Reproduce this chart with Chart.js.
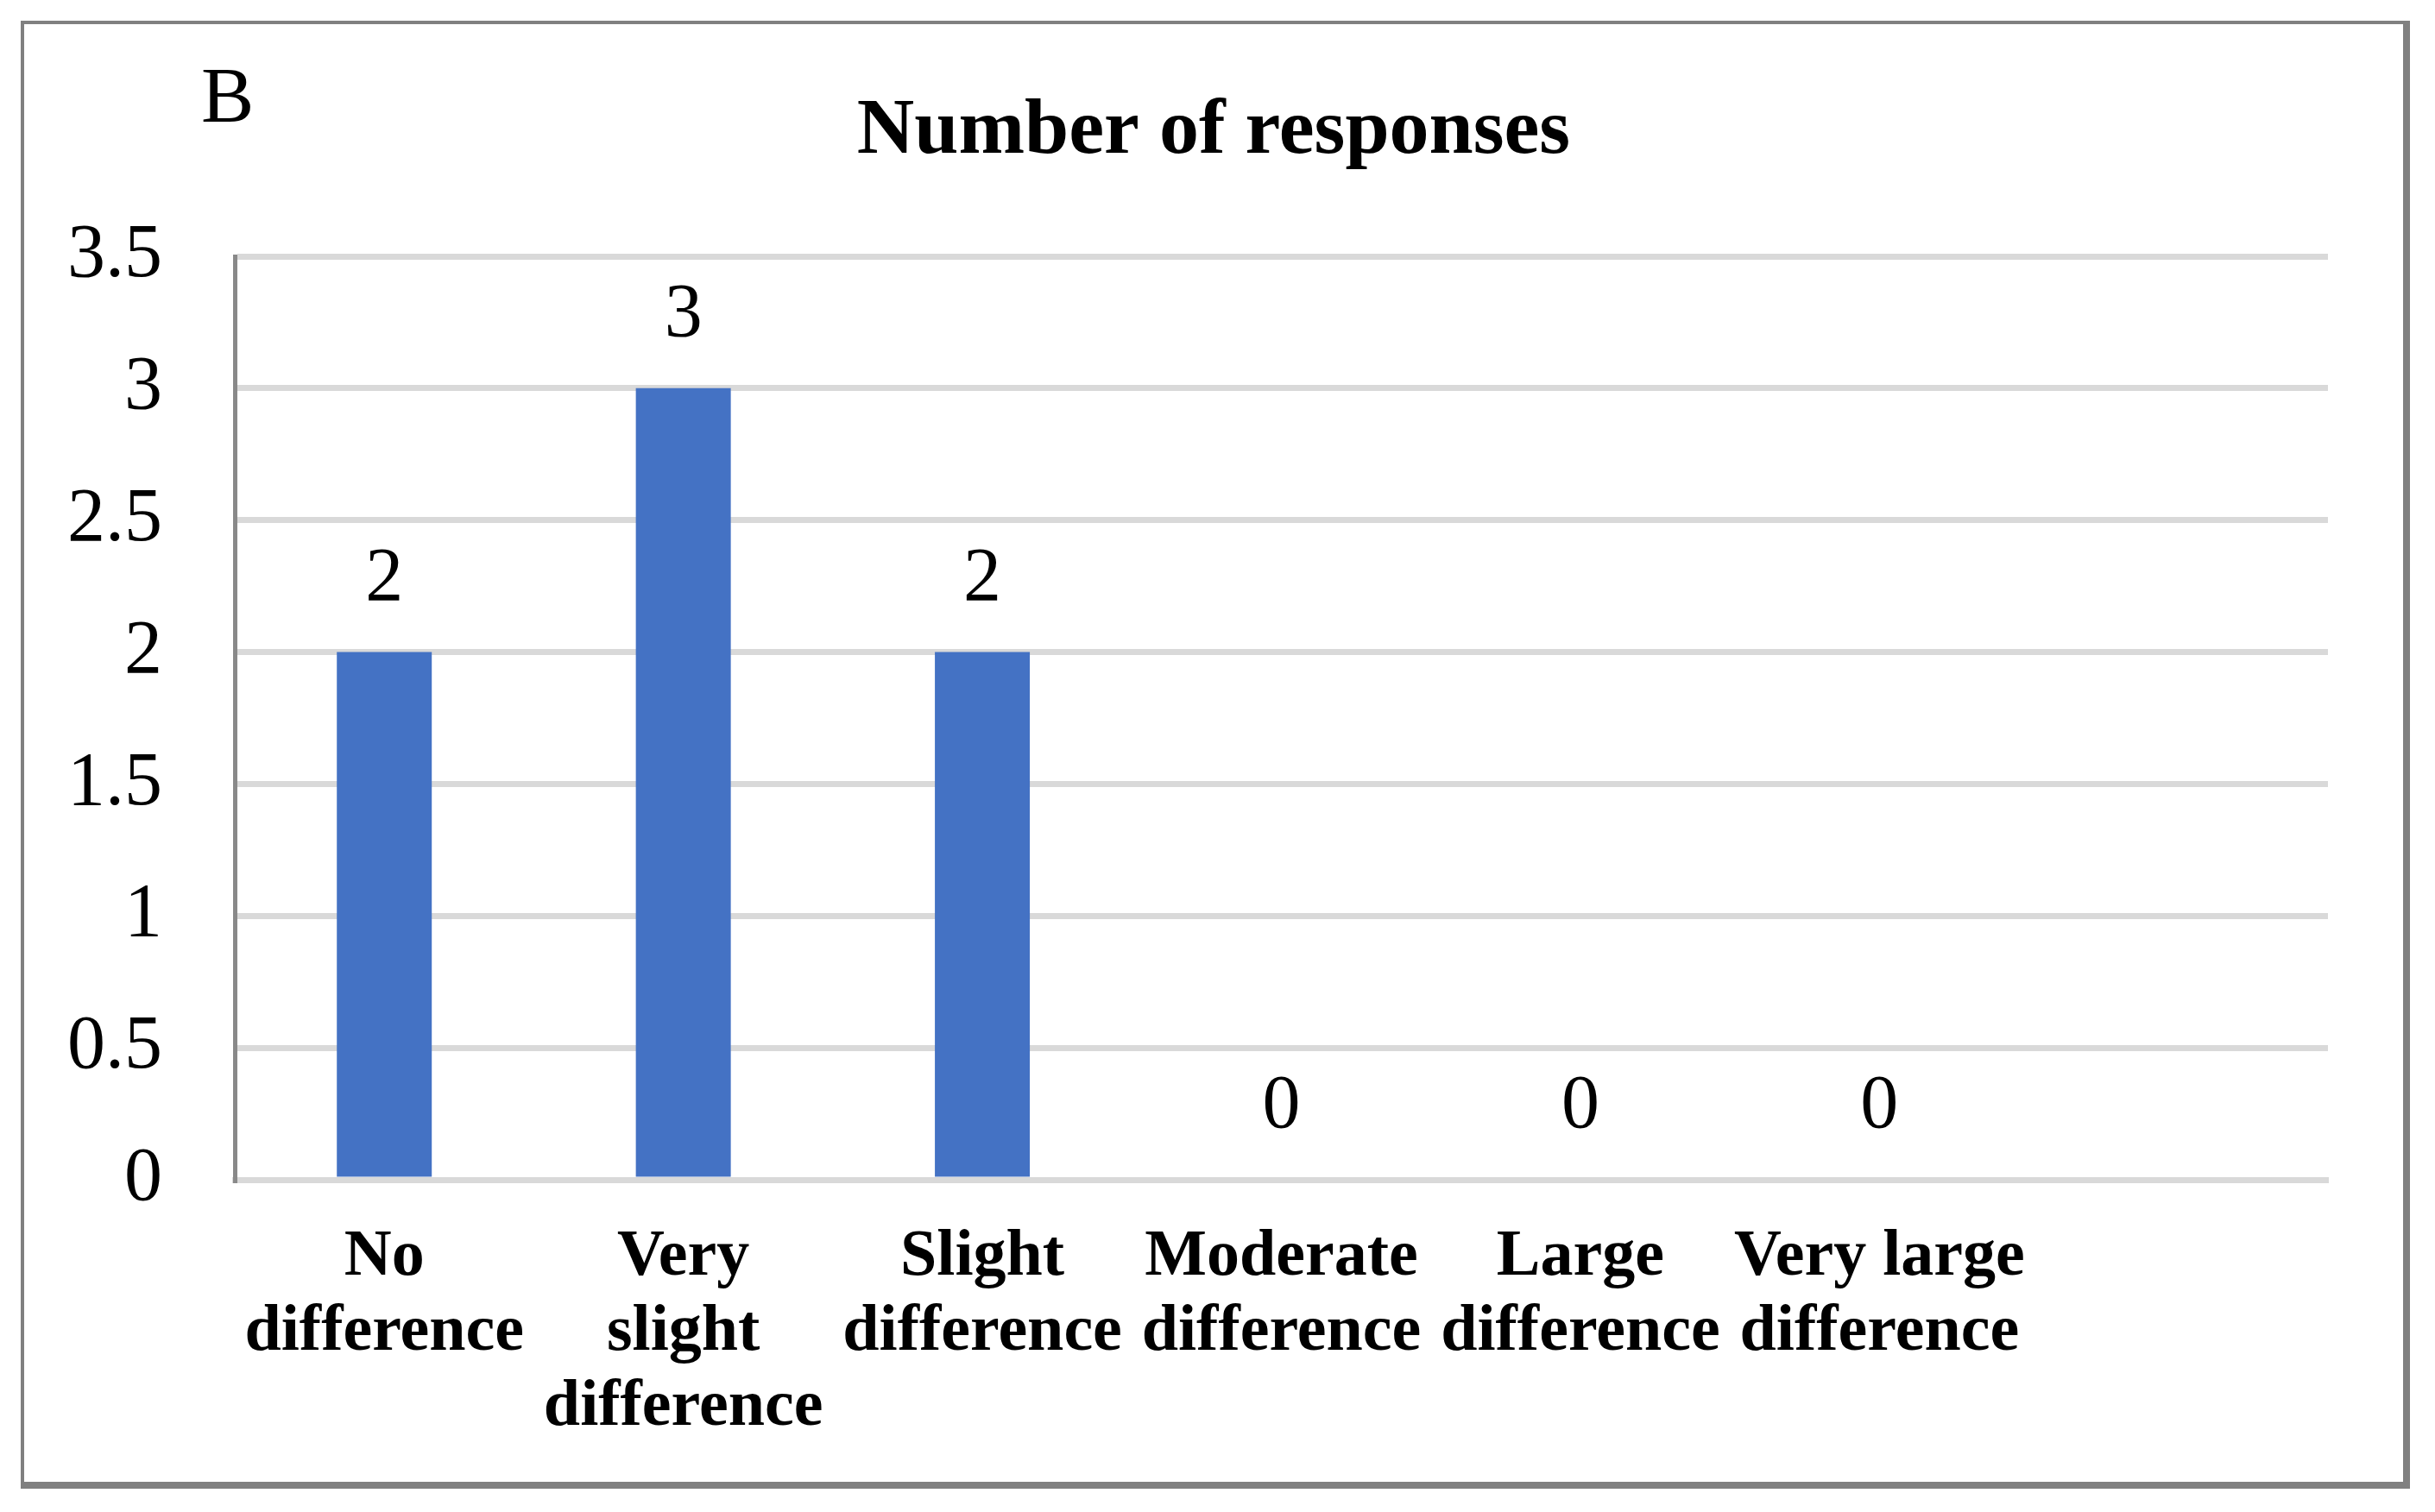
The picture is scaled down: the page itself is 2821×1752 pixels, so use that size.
<!DOCTYPE html>
<html>
<head>
<meta charset="utf-8">
<script src="https://cdn.jsdelivr.net/npm/chart.js@4.4.0/dist/chart.umd.min.js"></script>
<style>
  html, body { margin: 0; padding: 0; background: #fff; }
  #wrap { position: relative; width: 2821px; height: 1752px; }
  #frame {
    position: absolute; left: 24px; top: 24px; width: 2756px; height: 1689px;
    border-style: solid; border-color: #808080;
    border-width: 4px 8px 8px 4px;
  }
  #chart { position: absolute; left: 0; top: 0; }
</style>
</head>
<body>
<div id="wrap">
  <div id="frame"></div>
  <canvas id="chart" width="2821" height="1752"></canvas>
</div>
<script>
const categories = [
  ["No", "difference"],
  ["Very", "slight", "difference"],
  ["Slight", "difference"],
  ["Moderate", "difference"],
  ["Large", "difference"],
  ["Very large", "difference"],
  ""
];
const responses = [2, 3, 2, 0, 0, 0, null];
const panelLetter = "B";
const chartTitle = "Number of responses";

const serif = "'Liberation Serif', 'Times New Roman', serif";

// title, panel letter and value labels above the bars
const labelsPlugin = {
  id: "valueLabels",
  afterDatasetsDraw(chart) {
    const ctx = chart.ctx;
    const meta = chart.getDatasetMeta(0);
    ctx.save();
    ctx.fillStyle = "#000";
    ctx.font = "88px " + serif;
    ctx.textAlign = "center";
    ctx.textBaseline = "middle";
    meta.data.forEach((bar, i) => {
      const v = responses[i];
      if (v === null || v === undefined) return;
      ctx.fillText(String(v), bar.x, bar.y - 84);
    });
    ctx.textBaseline = "alphabetic";
    ctx.font = "bold 92px " + serif;
    ctx.fillText(chartTitle, 1406, 177);
    ctx.textAlign = "left";
    ctx.font = "92px " + serif;
    ctx.fillText(panelLetter, 233, 141);
    ctx.restore();
  }
};

new Chart(document.getElementById("chart"), {
  type: "bar",
  data: {
    labels: categories,
    datasets: [{
      data: responses,
      backgroundColor: "#4472C4",
      categoryPercentage: 1,
      barPercentage: 0.3175
    }]
  },
  options: {
    responsive: false,
    devicePixelRatio: 1,
    animation: false,
    events: [],
    layout: { padding: { top: 297, left: 40, right: 124, bottom: 40 } },
    plugins: {
      legend: { display: false },
      tooltip: { enabled: false },
      title: { display: false }
    },
    scales: {
      x: {
        grid: { display: false, drawTicks: false },
        border: { color: "#d9d9d9", width: 7 },
        ticks: {
          color: "#000",
          autoSkip: false,
          maxRotation: 0,
          minRotation: 0,
          padding: 47,
          font: { family: serif, size: 76, weight: "bold", lineHeight: 1.145 }
        },
        afterFit(scale) { scale.height = 345; }
      },
      y: {
        min: 0,
        max: 3.5,
        grid: { color: "#d9d9d9", lineWidth: 7, drawTicks: false },
        border: { color: "#898989", width: 5 },
        ticks: {
          stepSize: 0.5,
          color: "#000",
          padding: 84,
          font: { family: serif, size: 88 },
          callback: (v) => String(v)
        },
        afterFit(scale) { scale.width = 232; }
      }
    }
  },
  plugins: [labelsPlugin]
});
</script>
</body>
</html>
